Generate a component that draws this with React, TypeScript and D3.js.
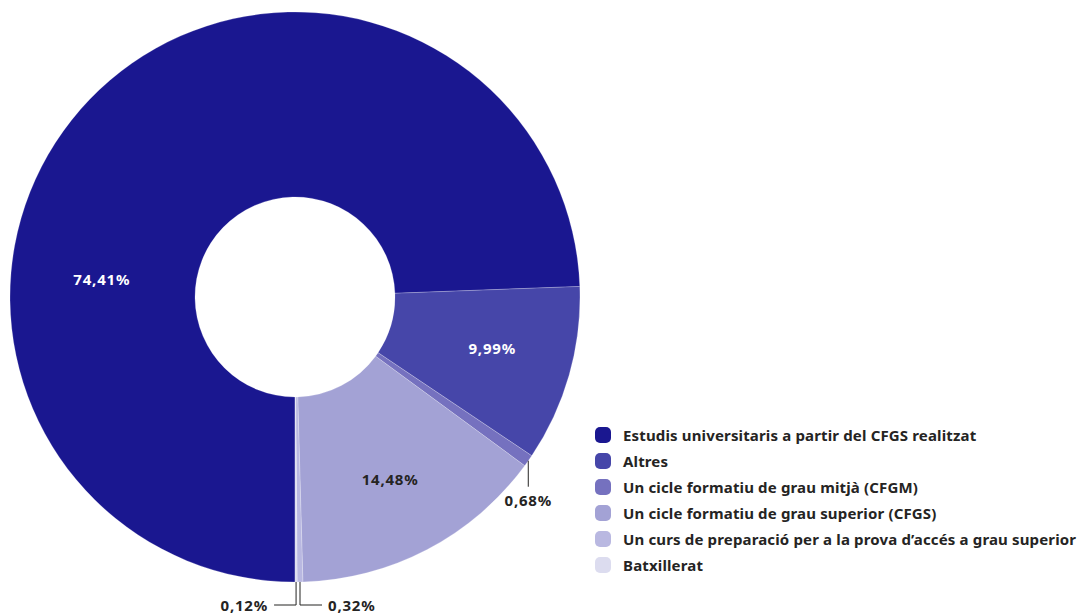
import React from "react";
import * as d3 from "d3";

const categories = [
  "Estudis universitaris a partir del CFGS realitzat",
  "Altres",
  "Un cicle formatiu de grau mitjà (CFGM)",
  "Un cicle formatiu de grau superior (CFGS)",
  "Un curs de preparació per a la prova d’accés a grau superior",
  "Batxillerat",
];
const values = [74.41, 9.99, 0.68, 14.48, 0.32, 0.12];
const valueLabels = ["74,41%", "9,99%", "0,68%", "14,48%", "0,32%", "0,12%"];
const colors = ["#1a1790", "#4646a9", "#7571bf", "#a3a2d5", "#b9b8e1", "#dcdcef"];

const W = 1077, H = 616;
const cx = 295, cy = 297, R = 285, r0 = 100;
const FONT = "'Noto Sans', 'Open Sans', sans-serif";
const LBL_SIZE = 15;
const LBL_SPACING = 0.8;

export default function App() {
  const pie = d3.pie<number>().sort(null).startAngle(Math.PI).endAngle(3 * Math.PI);
  const arcs = pie(values);
  const arc = d3.arc<d3.PieArcDatum<number>>().innerRadius(r0).outerRadius(R);

  const labelEls: React.ReactNode[] = [];
  arcs.forEach((a, i) => {
    const mid = (a.startAngle + a.endAngle) / 2;
    const share = values[i] / d3.sum(values);
    const common = {
      fill: "#252423",
      fontFamily: FONT,
      fontWeight: 700,
      fontSize: LBL_SIZE,
      letterSpacing: LBL_SPACING,
    };
    if (share > 0.05) {
      let ang = mid;
      let rad = 205;
      let dy = 0;
      if (i === 0) { ang = Math.PI * 2 - (84.7 * Math.PI) / 180 + 2 * Math.PI; rad = 194; }
      if (i === 1) dy = -5;
      const x = cx + rad * Math.sin(ang);
      const y = cy - rad * Math.cos(ang) + dy;
      const light = i < 2;
      labelEls.push(
        <text key={"l" + i} x={x} y={y} textAnchor="middle" dominantBaseline="central"
          {...common} fill={light ? "#ffffff" : "#252423"}>
          {valueLabels[i]}
        </text>
      );
    } else {
      const px = cx + R * Math.sin(mid);
      const py = cy - R * Math.cos(mid);
      if (i === 2) {
        labelEls.push(
          <g key={"l" + i}>
            <line x1={px} y1={py} x2={px} y2={py + 26} stroke="#252423" strokeWidth={1} />
            <text x={px} y={py + 45} textAnchor="middle" {...common}>
              {valueLabels[i]}
            </text>
          </g>
        );
      } else {
        const dir = i === 4 ? 1 : -1;
        const ly = 605;
        const hx = px + dir * 22;
        labelEls.push(
          <g key={"l" + i}>
            <polyline points={`${px},${py} ${px},${ly} ${hx},${ly}`} fill="none" stroke="#252423" strokeWidth={1} />
            <text x={hx + dir * 6} y={ly} dominantBaseline="central" textAnchor={dir > 0 ? "start" : "end"} {...common}>
              {valueLabels[i]}
            </text>
          </g>
        );
      }
    }
  });

  return (
    <svg width={W} height={H} style={{ position: "absolute", left: 0, top: 0, background: "#fff" }}>
      <g transform={`translate(${cx},${cy})`}>
        {arcs.map((a, i) => (
          <path key={i} d={arc(a) || ""} fill={colors[i]} stroke="#ffffff" strokeOpacity={0.35} strokeWidth={0.6} />
        ))}
      </g>
      {labelEls}
      <g>
        {categories.map((c, i) => (
          <g key={c} transform={`translate(595,${435 + i * 26})`}>
            <rect x={0} y={-8} width={16} height={16} rx={5} fill={colors[i]} />
            <text x={28} y={0} dominantBaseline="central" fill="#252423" fontFamily={FONT} fontWeight={700} fontSize={15} letterSpacing={0.15}>
              {c}
            </text>
          </g>
        ))}
      </g>
    </svg>
  );
}
